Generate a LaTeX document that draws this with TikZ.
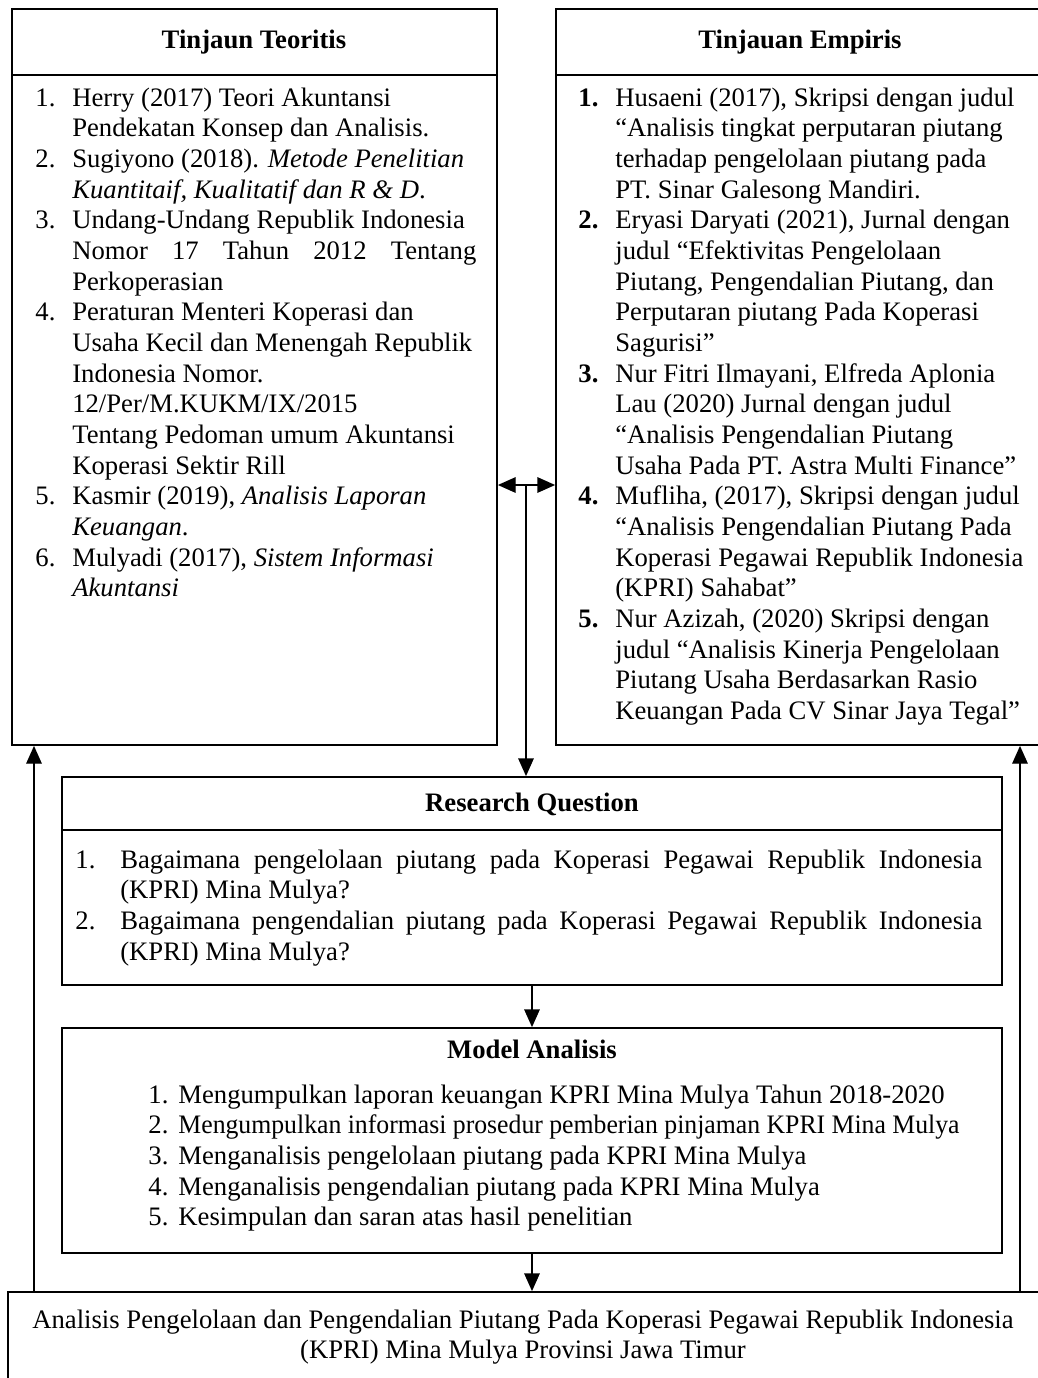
\documentclass[tikz,border=0pt]{standalone}
\usepackage{fontspec}
\setmainfont{Liberation Serif}
\usepackage{graphicx}
\usepackage{tikz}
\usetikzlibrary{arrows.meta,fit}

\tikzset{
    box/.style={draw, line width=0.8pt, inner sep=0pt},
    txt/.style={inner sep=0pt, font=\fontsize{12}{13.8}\selectfont},
    arr/.style={line width=0.6pt, -{Triangle[length=8pt,width=7pt]}},
    darr/.style={line width=0.6pt, {Triangle[length=8pt,width=7pt]}-{Triangle[length=8pt,width=7pt]}}
}

\begin{document}
\begin{tikzpicture}[x=0.45pt, y=-0.45pt]
            \useasboundingbox (0,0) rectangle (1038,1378);
            % boxes
            \node[box, fit={(12,9) (497,745)}] (teori) {};
            \node[box, fit={(556,9) (1045,745)}] (empiris) {};
            \node[box, fit={(62,777) (1002,985)}] (rq) {};
            \node[box, fit={(62,1028) (1002,1253)}] (model) {};
            \node[box, fit={(8,1292) (1045,1390)}] (hasil) {};
            \coordinate (hd) at (0,75);
            \coordinate (rqhd) at (0,830);
            \draw[line width=0.8pt] (teori.west |- hd) -- (teori.east |- hd);
            \draw[line width=0.8pt] (empiris.west |- hd) -- (empiris.east |- hd);
            \draw[line width=0.8pt] (rq.west |- rqhd) -- (rq.east |- rqhd);
            % titles
            \node[txt, anchor=base] (teoriT) at (254,48) {\bfseries Tinjaun Teoritis};
            \node[txt, anchor=base] (empirisT) at (800,48) {\bfseries Tinjauan Empiris};
            \node[txt, anchor=base] (rqT) at (532,811) {\bfseries Research Question};
            \node[txt, anchor=base] (modelT) at (532,1058) {\bfseries Model Analisis};
            % lists
            \node[txt, anchor=base west] (teoriL) at (35,106) {\begin{tabular}[t]{@{}p{16.6pt}@{}l@{}}
                1. & Herry (2017) Teori Akuntansi\\
                   & Pendekatan Konsep dan Analisis.\\
                2. & Sugiyono (2018). \textit{Metode Penelitian}\\
                   & \textit{Kuantitaif, Kualitatif dan R \& D}.\\
                3. & Undang-Undang Republik Indonesia\\
                   & \makebox[181.8pt][s]{Nomor 17 Tahun 2012 Tentang}\\
                   & Perkoperasian\\
                4. & Peraturan Menteri Koperasi dan\\
                   & Usaha Kecil dan Menengah Republik\\
                   & Indonesia Nomor.\\
                   & 12/Per/M.KUKM/IX/2015\\
                   & Tentang Pedoman umum Akuntansi\\
                   & Koperasi Sektir Rill\\
                5. & Kasmir (2019), \textit{Analisis Laporan}\\
                   & \textit{Keuangan}.\\
                6. & Mulyadi (2017), \textit{Sistem Informasi}\\
                   & \textit{Akuntansi}
            \end{tabular}};
            \node[txt, anchor=base west] (empirisL) at (578,106) {\begin{tabular}[t]{@{}p{16.6pt}@{}l@{}}
                \textbf{1.} & Husaeni (2017), Skripsi dengan judul\\
                            & ``Analisis tingkat perputaran piutang\\
                            & terhadap pengelolaan piutang pada\\
                            & PT. Sinar Galesong Mandiri.\\
                \textbf{2.} & Eryasi Daryati (2021), Jurnal dengan\\
                            & judul ``Efektivitas Pengelolaan\\
                            & Piutang, Pengendalian Piutang, dan\\
                            & Perputaran piutang Pada Koperasi\\
                            & Sagurisi''\\
                \textbf{3.} & Nur Fitri Ilmayani, Elfreda Aplonia\\
                            & Lau (2020) Jurnal dengan judul\\
                            & ``Analisis Pengendalian Piutang\\
                            & Usaha Pada PT. Astra Multi Finance''\\
                \textbf{4.} & Mufliha, (2017), Skripsi dengan judul\\
                            & ``Analisis Pengendalian Piutang Pada\\
                            & Koperasi Pegawai Republik Indonesia\\
                            & (KPRI) Sahabat''\\
                \textbf{5.} & Nur Azizah, (2020) Skripsi dengan\\
                            & judul ``Analisis Kinerja Pengelolaan\\
                            & Piutang Usaha Berdasarkan Rasio\\
                            & Keuangan Pada CV Sinar Jaya Tegal''
            \end{tabular}};
            \node[txt, anchor=base west] (rqL) at (75,868) {\begin{tabular}[t]{@{}p{20.2pt}@{}l@{}}
                1. & \makebox[387.9pt][s]{Bagaimana pengelolaan piutang pada Koperasi Pegawai Republik Indonesia}\\
                   & (KPRI) Mina Mulya?\\
                2. & \makebox[387.9pt][s]{Bagaimana pengendalian piutang pada Koperasi Pegawai Republik Indonesia}\\
                   & (KPRI) Mina Mulya?
            \end{tabular}};
            \node[txt, anchor=base west] (modelL) at (148,1103) {\begin{tabular}[t]{@{}p{13.5pt}@{}l@{}}
                1. & Mengumpulkan laporan keuangan KPRI Mina Mulya Tahun 2018-2020\\
                2. & \scalebox{0.965}[1]{Mengumpulkan informasi prosedur pemberian pinjaman KPRI Mina Mulya}\\
                3. & Menganalisis pengelolaan piutang pada KPRI Mina Mulya\\
                4. & Menganalisis pengendalian piutang pada KPRI Mina Mulya\\
                5. & Kesimpulan dan saran atas hasil penelitian
            \end{tabular}};
            \node[txt, anchor=base] (hasilL) at (523,1328) {\begin{tabular}[t]{@{}c@{}}
                Analisis Pengelolaan dan Pengendalian Piutang Pada Koperasi Pegawai Republik Indonesia\\
                (KPRI) Mina Mulya Provinsi Jawa Timur
            \end{tabular}};
            % connectors
            \coordinate (mid) at (526,485);
            \coordinate (lx) at (34,0);
            \coordinate (rx) at (1020,0);
            \draw[darr] (teori.east |- mid) -- (empiris.west |- mid);
            \draw[arr] (mid) -- (rq.north -| mid);
            \draw[arr] (rq.south) -- (model.north);
            \draw[arr] (model.south) -- (hasil.north -| model.south);
            \draw[arr] (hasil.north -| lx) -- (teori.south -| lx);
            \draw[arr] (hasil.north -| rx) -- (empiris.south -| rx);
\end{tikzpicture}
\end{document}
